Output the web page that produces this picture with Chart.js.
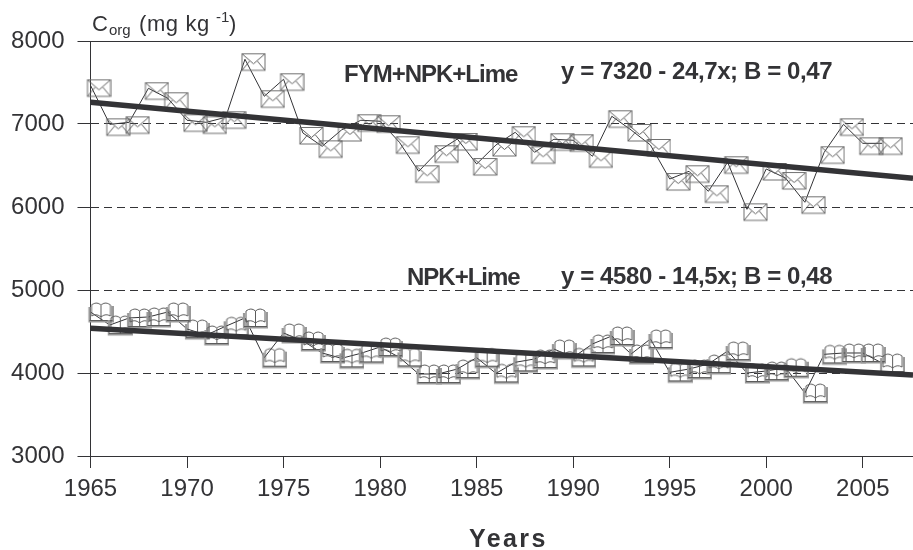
<!DOCTYPE html>
<html>
<head>
<meta charset="utf-8">
<style>
  html, body { margin: 0; padding: 0; background: #fff; }
  #wrap { position: relative; width: 913px; height: 550px; }
</style>
<script src="https://cdn.jsdelivr.net/npm/chart.js@4/dist/chart.umd.min.js"></script>
</head>
<body>
<div id="wrap"><canvas id="chart" width="913" height="550"></canvas></div>
<script>
const years = [1965, 1966, 1967, 1968, 1969, 1970, 1971, 1972, 1973, 1974, 1975, 1976, 1977, 1978,
    1979, 1980, 1981, 1982, 1983, 1984, 1985, 1986, 1987, 1988, 1989, 1990, 1991, 1992,
    1993, 1994, 1995, 1996, 1997, 1998, 1999, 2000, 2001, 2002, 2003, 2004, 2005, 2006];

const fymNpkLime = [7466, 6996, 7020, 7430, 7310, 7045, 7020, 7081, 7780, 7334, 7539, 6892, 6731, 6928,
    7045, 7033, 6780, 6430, 6671, 6819, 6518, 6747, 6900, 6659, 6816, 6804, 6611, 7093,
    6928, 6747, 6337, 6430, 6189, 6539, 5972, 6458, 6349, 6057, 6659, 6996, 6767, 6767];

const npkLime = [4735, 4578, 4663, 4675, 4735, 4530, 4458, 4563, 4663, 4185, 4482, 4386, 4241, 4177,
    4237, 4313, 4189, 3988, 3988, 4048, 4185, 3996, 4129, 4169, 4289, 4189, 4350, 4446,
    4229, 4410, 4008, 4048, 4108, 4265, 4000, 4024, 4064, 3759, 4225, 4241, 4241, 4120];

const trendYears = [1965, 2007.6];
const fymTrend = [7261, 6346];
const npkTrend = [4539, 3976];

const yearTicks = [1965, 1970, 1975, 1980, 1985, 1990, 1995, 2000, 2005];
const valueTicks = [3000, 4000, 5000, 6000, 7000, 8000];

const INK = '#333336';
const FONT = '"Liberation Sans", Arial, sans-serif';

// Markers sit lower right of the data point in the original, so the icon is
// drawn off-centre on a canvas that Chart.js centres on the point.
function envelopeIcon() {
    const c = document.createElement('canvas');
    c.width = 42; c.height = 26;
    const g = c.getContext('2d');
    const x0 = 18, y0 = 7.5, w = 23, h = 16.5, mx = x0 + w / 2;
    g.strokeStyle = '#707070';
    g.lineWidth = 1;
    g.strokeRect(x0, y0, w, h);
    g.strokeStyle = '#606060';
    g.beginPath();
    g.moveTo(x0, y0); g.lineTo(mx, y0 + 10); g.lineTo(x0 + w, y0);
    g.moveTo(x0, y0 + h); g.lineTo(mx - 4, y0 + 7.5);
    g.moveTo(x0 + w, y0 + h); g.lineTo(mx + 4, y0 + 7.5);
    g.stroke();
    return c;
}

function bookIcon() {
    const c = document.createElement('canvas');
    c.width = 46; c.height = 26;
    const g = c.getContext('2d');
    const x0 = 21, y0 = 4, w = 25, h = 19, mx = x0 + w / 2;
    g.strokeStyle = '#999';
    g.lineWidth = 2.2;
    g.beginPath();
    g.moveTo(x0 + 1, y0 + 4); g.lineTo(x0 + 1, y0 + h - 0.5); g.lineTo(x0 + w - 1, y0 + h - 0.5); g.lineTo(x0 + w - 1, y0 + 3);
    g.stroke();
    g.strokeStyle = '#5c5c5c';
    g.lineWidth = 1;
    g.beginPath();
    g.moveTo(x0 + 3, y0 + 13);
    g.lineTo(x0 + 3, y0 + 2);
    g.quadraticCurveTo(x0 + 8, y0 - 2, mx, y0 + 2);
    g.quadraticCurveTo(x0 + w - 8, y0 - 2, x0 + w - 3, y0 + 2);
    g.lineTo(x0 + w - 3, y0 + 13);
    g.moveTo(mx, y0 + 2); g.lineTo(mx, y0 + h - 1);
    g.moveTo(x0 + 1, y0 + h - 1.5); g.lineTo(x0 + w - 1, y0 + h - 1.5);
    g.moveTo(x0 + 3, y0 + 13); g.quadraticCurveTo(x0 + 8, y0 + 10, mx, y0 + 14);
    g.quadraticCurveTo(x0 + w - 8, y0 + 10, x0 + w - 3, y0 + 13);
    g.stroke();
    return c;
}

const toPoints = (xs, ys) => xs.map((x, i) => ({ x: x, y: ys[i] }));

// Annotations and axis captions
const captions = {
    id: 'captions',
    afterDraw: (chart) => {
        const ctx = chart.ctx;
        ctx.save();
        ctx.fillStyle = INK;
        ctx.textBaseline = 'alphabetic';
        ctx.textAlign = 'left';

        ctx.font = 'bold 24px ' + FONT;
        ctx.letterSpacing = '-1px';
        ctx.fillText('FYM+NPK+Lime', 344, 82);
        ctx.fillText('NPK+Lime', 407, 285);
        ctx.letterSpacing = '-0.4px';
        ctx.fillText('y = 7320 - 24,7x; B = 0,47', 561, 79);
        ctx.fillText('y = 4580 - 14,5x; B = 0,48', 561, 284);

        ctx.letterSpacing = '2.4px';
        ctx.font = 'bold 25px ' + FONT;
        ctx.fillText('Years', 469, 547);

        ctx.letterSpacing = '0px';
        ctx.font = '22px ' + FONT;
        ctx.fillText('C', 92, 31);
        ctx.font = '15px ' + FONT;
        ctx.fillText('org', 109, 35);
        ctx.font = '22px ' + FONT;
        ctx.letterSpacing = '0.6px';
        ctx.fillText('(mg kg', 139, 31);
        ctx.letterSpacing = '0px';
        ctx.font = '15px ' + FONT;
        ctx.fillText('-1', 216, 22);
        ctx.font = '22px ' + FONT;
        ctx.fillText(')', 229, 31);
        ctx.restore();
    }
};

new Chart(document.getElementById('chart'), {
    type: 'scatter',
    data: {
        datasets: [
            {
                label: 'FYM+NPK+Lime trend',
                data: toPoints(trendYears, fymTrend),
                showLine: true, borderColor: INK, borderWidth: 5.5, pointRadius: 0, clip: false
            },
            {
                label: 'NPK+Lime trend',
                data: toPoints(trendYears, npkTrend),
                showLine: true, borderColor: INK, borderWidth: 5.5, pointRadius: 0, clip: false
            },
            {
                label: 'FYM+NPK+Lime',
                data: toPoints(years, fymNpkLime),
                showLine: true, borderColor: INK, borderWidth: 1,
                pointStyle: envelopeIcon(), pointRadius: 5, clip: false
            },
            {
                label: 'NPK+Lime',
                data: toPoints(years, npkLime),
                showLine: true, borderColor: INK, borderWidth: 1,
                pointStyle: bookIcon(), pointRadius: 5, clip: false
            }
        ]
    },
    options: {
        responsive: false,
        animation: false,
        layout: { autoPadding: false, padding: { top: 41, right: 0, bottom: 0, left: 0 } },
        plugins: { legend: { display: false }, tooltip: { enabled: false } },
        scales: {
            x: {
                type: 'linear',
                bounds: 'data',
                min: 1965,
                max: 2007.6,
                afterBuildTicks: (s) => { s.ticks = yearTicks.map(v => ({ value: v })); },
                afterFit: (s) => { s.height = 94; s.paddingLeft = 0; s.paddingRight = 0; },
                grid: { drawOnChartArea: false, drawTicks: true, tickLength: 12, color: INK, lineWidth: 1 },
                border: { color: INK, width: 1 },
                ticks: {
                    color: INK, font: { family: FONT, size: 24 }, padding: 7,
                    maxRotation: 0, autoSkip: false, callback: (v) => String(v)
                }
            },
            top: {
                type: 'linear',
                position: 'top',
                bounds: 'data',
                min: 1965,
                max: 2007.6,
                afterFit: (s) => { s.height = 0; s.paddingLeft = 0; s.paddingRight = 0; },
                grid: { display: false, drawTicks: false },
                border: { color: INK, width: 1 },
                ticks: { display: false }
            },
            y: {
                min: 3000,
                max: 8000,
                afterBuildTicks: (s) => { s.ticks = valueTicks.map(v => ({ value: v })); },
                afterFit: (s) => { s.width = 90.5; s.paddingTop = 0; s.paddingBottom = 0; },
                grid: { color: INK, lineWidth: 1, tickLength: 13, tickBorderDash: [], tickColor: INK },
                border: { color: INK, width: 1, dash: [8, 5] },
                ticks: {
                    color: INK, font: { family: FONT, size: 24 }, padding: 13,
                    autoSkip: false, callback: (v) => String(v)
                }
            }
        }
    },
    plugins: [captions]
});
</script>
</body>
</html>
